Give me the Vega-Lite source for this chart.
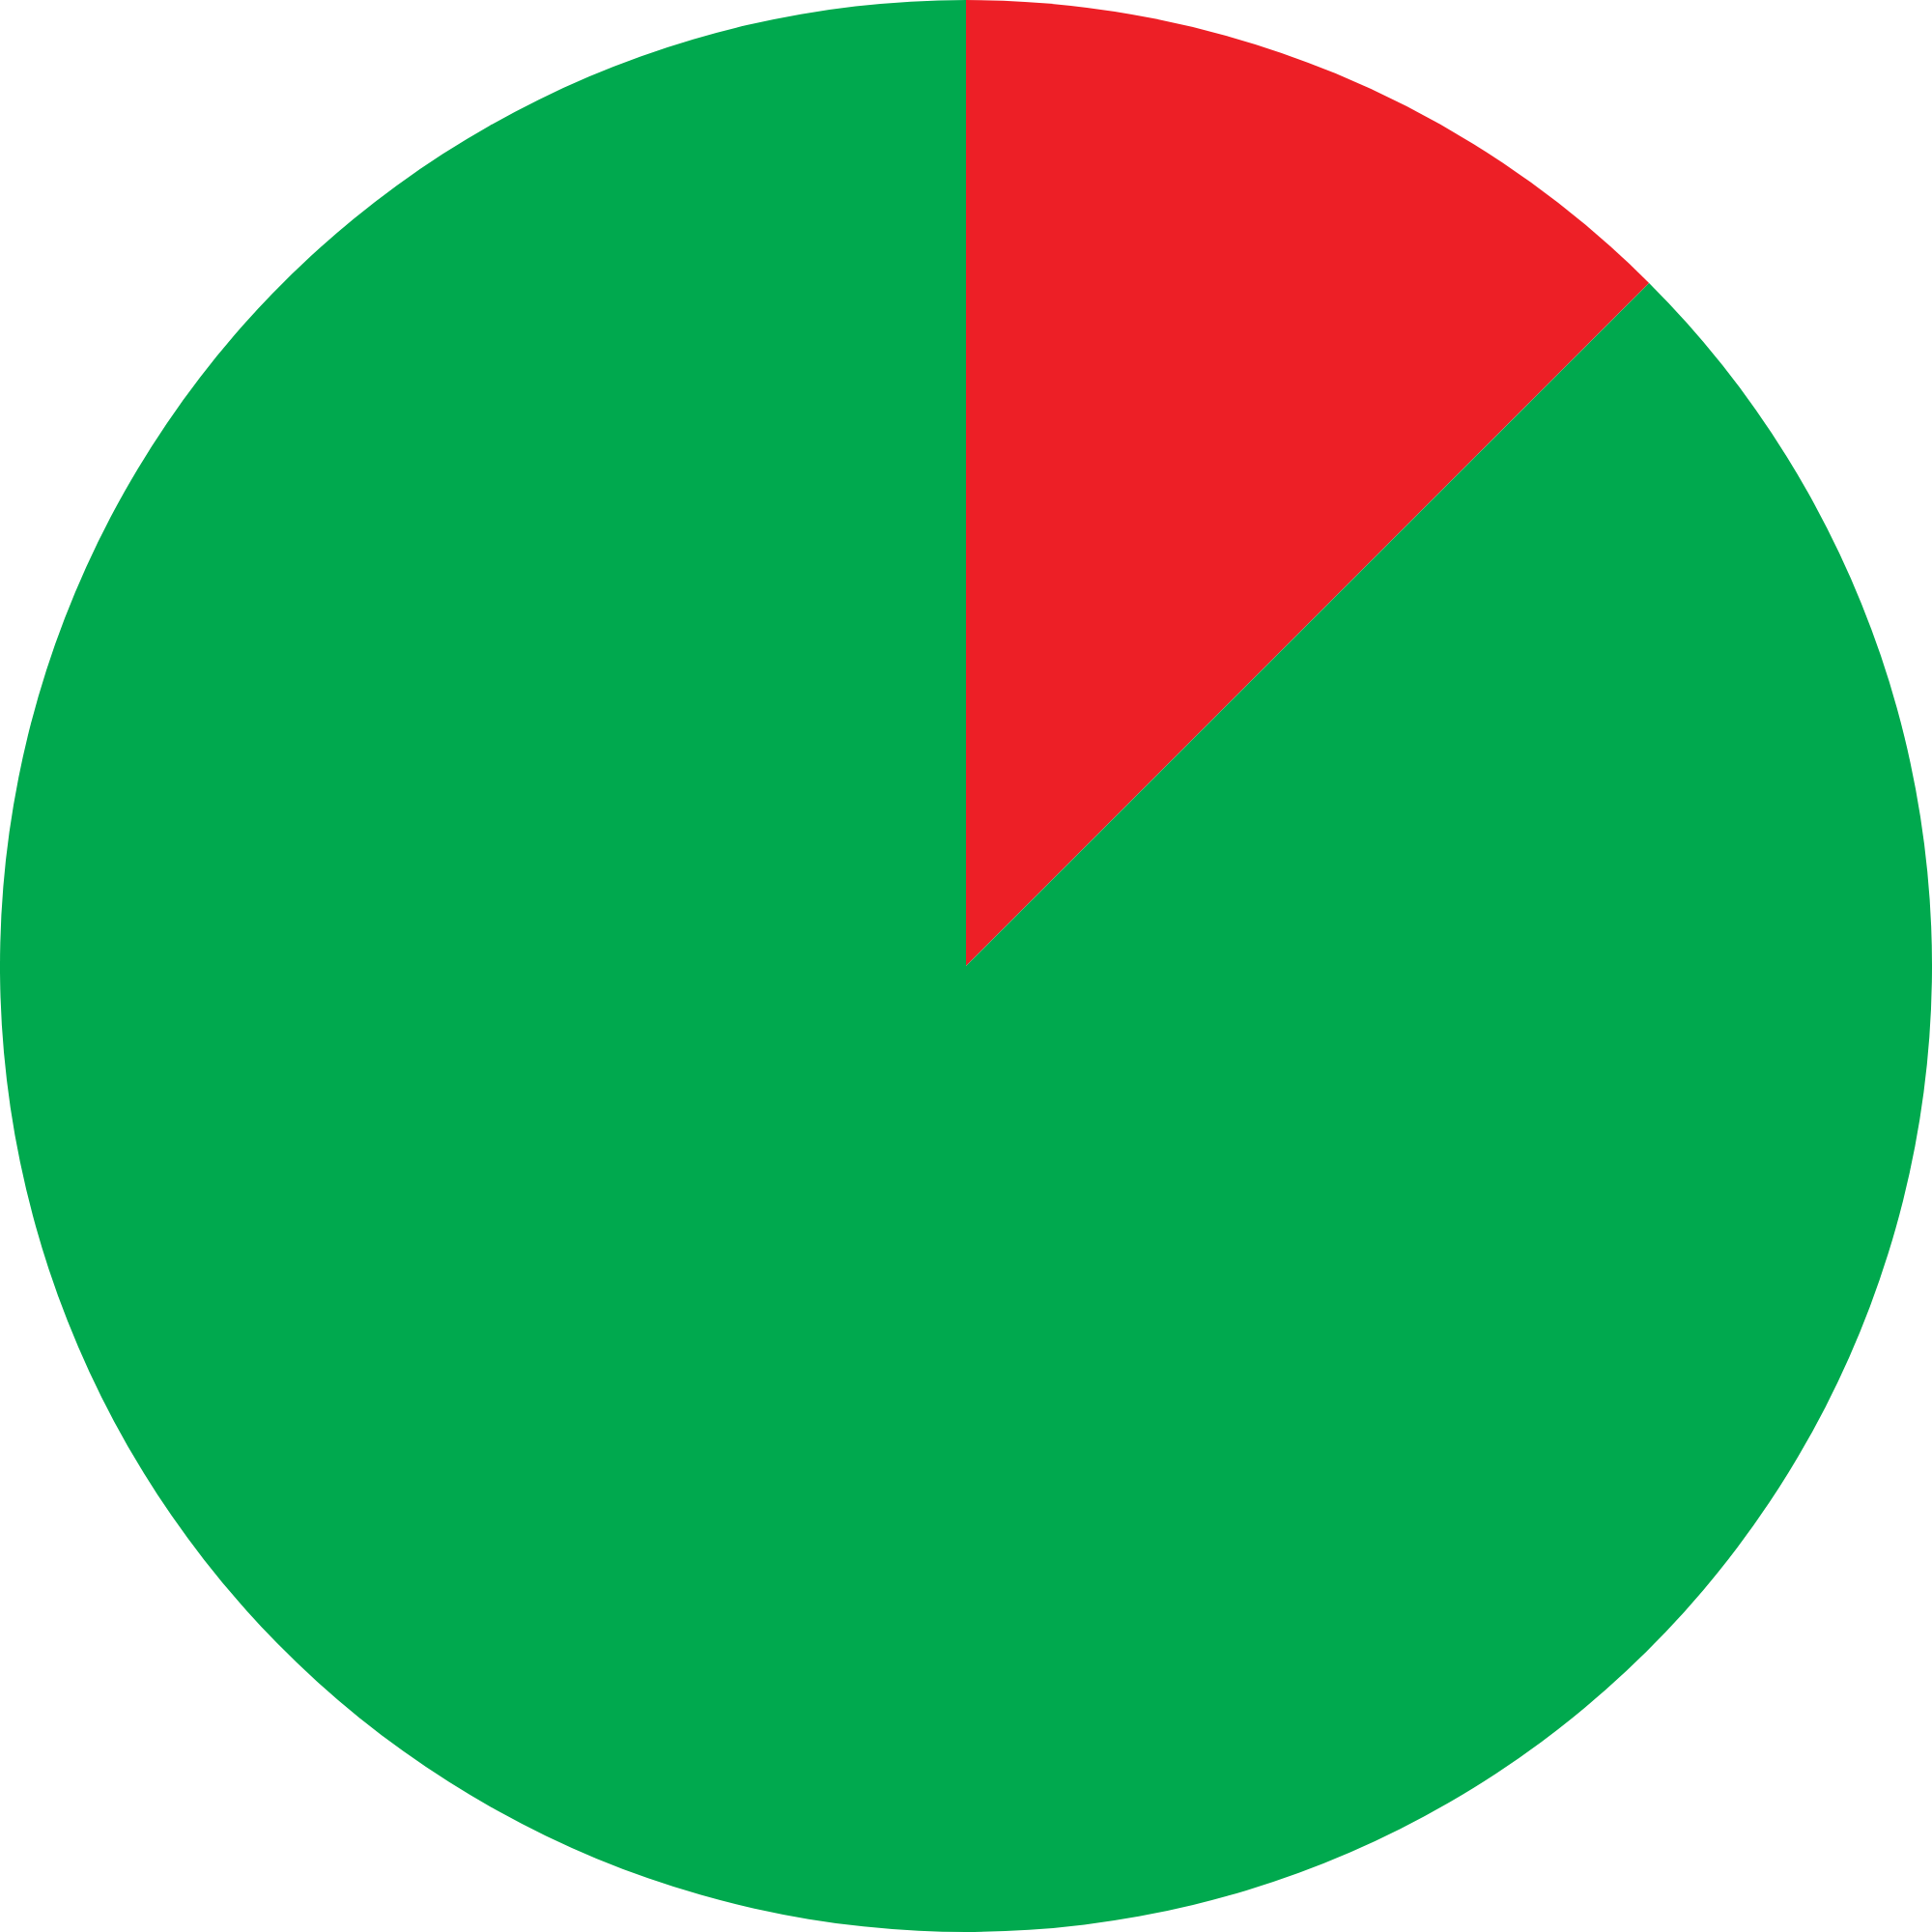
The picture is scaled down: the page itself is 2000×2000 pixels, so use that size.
{
  "$schema": "https://vega.github.io/schema/vega-lite/v6.json",
  "width": 2000,
  "height": 2000,
  "padding": 0,
  "autosize": {"type": "fit", "contains": "padding"},
  "background": "white",
  "config": {"view": {"stroke": null}},
  "data": {
    "values": [
      {"category": "Red", "value": 12.5, "order": 1},
      {"category": "Green", "value": 87.5, "order": 2}
    ]
  },
  "mark": {"type": "arc", "outerRadius": 1000},
  "encoding": {
    "theta": {"field": "value", "type": "quantitative", "stack": true},
    "order": {"field": "order", "type": "quantitative"},
    "color": {
      "field": "category",
      "type": "nominal",
      "scale": {"domain": ["Red", "Green"], "range": ["#ED1F26", "#00A94E"]},
      "legend": null
    }
  }
}
